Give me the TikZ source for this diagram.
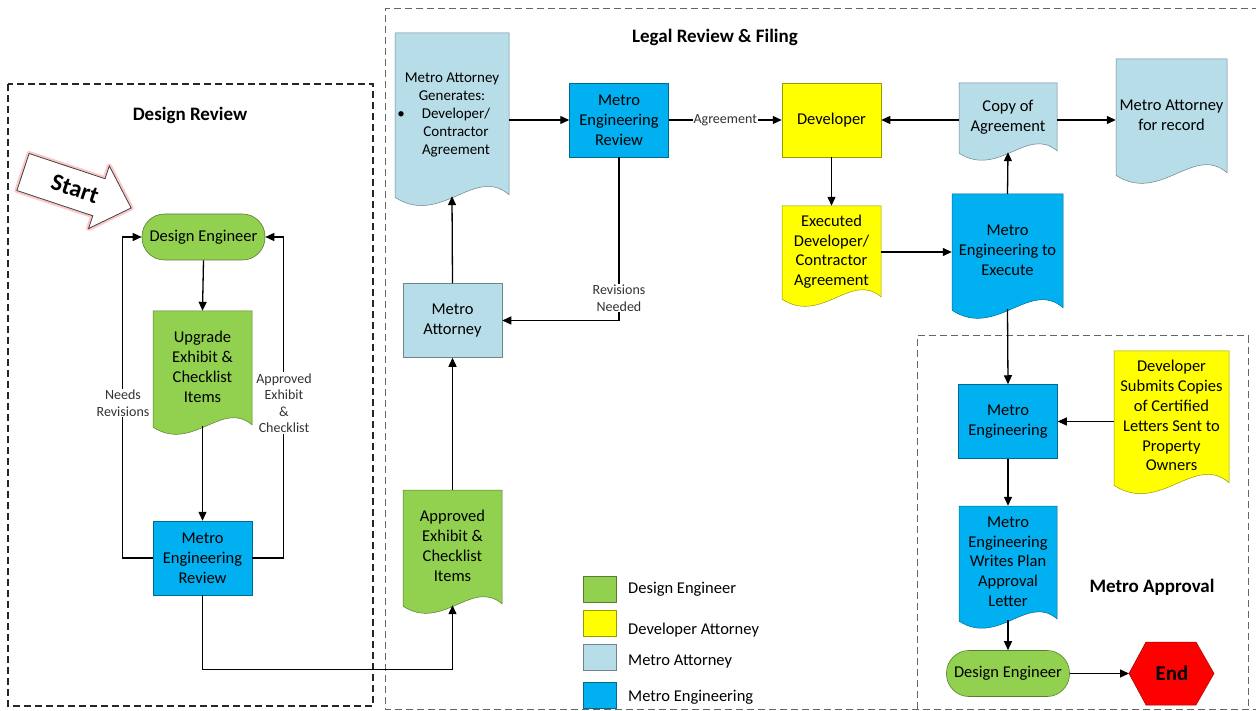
\documentclass[tikz,border=0pt]{standalone}
\usepackage{fontspec}
\setmainfont{Carlito}
\usetikzlibrary{arrows.meta,calc}
\definecolor{cgreen}{HTML}{92D050}
\definecolor{cyellow}{HTML}{FFFF00}
\definecolor{clblue}{HTML}{B7DDE8}
\definecolor{cblue}{HTML}{00B0F0}
\definecolor{cred}{HTML}{FF0000}
\newcommand{\docfont}{}
% name, cx, cy, w, H, colour, raise, text
\newcommand{\docnode}[8]{%
  \path[fill=#6, draw=#6!60!black, line width=0.5pt]
    ({#2-#4/2},{#3-#5/2}) -- ({#2+#4/2},{#3-#5/2}) -- ({#2+#4/2},{#3+#5/2-0.012*#4})
    .. controls ({#2+#4/2-0.3*#4},{#3+#5/2-0.27*#4}) and ({#2-#4/2+0.4*#4},{#3+#5/2+0.27*#4}) ..
    ({#2-#4/2},{#3+#5/2+0.012*#4}) -- cycle;
  \node[txt, minimum width=#4, minimum height=#5, inner sep=0pt] (#1) at (#2,#3)
    {\raisebox{#7pt}{\docfont\begin{tabular}{@{}c@{}}#8\end{tabular}}};%
}
\begin{document}
\begin{tikzpicture}[x=1pt,y=-1pt,
  arr/.style={draw=black, line width=1.3pt, -{Triangle[length=9pt,width=8pt]}},
  txt/.style={font=\fontsize{16.5}{19.8}\selectfont, align=center, text=black},
  lbl/.style={font=\fontsize{14}{16.5}\selectfont, align=center, fill=white, inner sep=1pt, text=black!80},
  procbox/.style={rectangle, draw=#1!60!black, fill=#1, line width=0.5pt, minimum width=99pt, minimum height=74pt, inner sep=0pt, txt},
  term/.style={rectangle, rounded corners=22.5pt, draw=cgreen!60!black, fill=cgreen, line width=0.6pt, minimum width=123pt, minimum height=46pt, inner sep=0pt, txt},
  ttl/.style={font=\bfseries\fontsize{19}{22}\selectfont, text=black},
  boxdash/.style={dash pattern=on 7pt off 4pt, line width=1.4pt},
  legsq/.style={rectangle, draw=#1!60!black, fill=#1, line width=0.5pt, minimum width=33pt, minimum height=26pt, inner sep=0pt},
  legtxt/.style={font=\fontsize{16.5}{18}\selectfont, anchor=west, inner sep=0pt, text=black}
]
\useasboundingbox (0,0) rectangle (1256,711);
\fill[white] (0,0) rectangle (1256,711);

% dashed frames
\draw[boxdash, draw=black!85] (8,84) rectangle (373,706);
\draw[boxdash, draw=black!60, line width=1pt] (1270,9) -- (385,9) -- (385,709) -- (1270,709);
\draw[boxdash, draw=black!60, line width=1pt] (917,709) -- (917,336) -- (1248,336) -- (1248,709);

% titles
\node[ttl] (tdr) at (190,115) {Design Review};
\node[ttl] (tlr) at (715,37) {Legal Review \& Filing};
\node[ttl] (tma) at (1152,587) {Metro Approval};

% start arrow
\begin{scope}[shift={(23,172)}, rotate=-18.4]
  \draw[red!30, line width=5pt, opacity=0.7, line join=round]
    (0,-19.5) -- (80,-19.5) -- (80,-33) -- (114,0) -- (80,33) -- (80,19.5) -- (0,19.5) -- cycle;
  \draw[fill=white, draw=black!75, line width=0.8pt, line join=miter]
    (0,-19.5) -- (80,-19.5) -- (80,-33) -- (114,0) -- (80,33) -- (80,19.5) -- (0,19.5) -- cycle;
\end{scope}
\node[font=\bfseries\fontsize{24}{24}\selectfont, rotate=-18.4, inner sep=0pt] (start) at (75,189) {Start};

% design review
\node[term] (de1) at (203.5,237) {Design Engineer};
\docnode{upg}{202.5}{368.5}{99}{115}{cgreen}{3.5}{Upgrade\\Exhibit \&\\Checklist\\Items}
\node[procbox=cblue] (merdr) at (202.5,558) {Metro\\Engineering\\Review};

% legal review
\docnode{appr}{452.5}{547.5}{99}{115}{cgreen}{4.5}{Approved\\Exhibit \&\\Checklist\\Items}
\node[procbox=clblue] (ma) at (452.5,320.5) {Metro\\Attorney};
\renewcommand{\docfont}{\fontsize{15}{18}\selectfont}
\docnode{mag}{452}{114.5}{114}{163}{clblue}{3.5}{Metro Attorney\\Generates:\\\hspace*{8pt}\llap{\textbullet\hspace{17pt}}Developer/\\\hspace*{8pt}Contractor\\\hspace*{8pt}Agreement}
\renewcommand{\docfont}{}
\node[procbox=cblue] (merlr) at (619,120) {Metro\\Engineering\\Review};
\node[procbox=cyellow] (dev) at (831.5,120) {Developer};
\docnode{exec}{831.5}{252}{99}{92}{cyellow}{4.5}{Executed\\Developer/\\Contractor\\Agreement}
\docnode{mee}{1007.5}{251.5}{111}{115}{cblue}{4.5}{Metro\\Engineering to\\Execute}
\docnode{copy}{1008}{117.5}{98}{69}{clblue}{5.5}{Copy of\\Agreement}
\docnode{rec}{1171.5}{116.5}{111}{115}{clblue}{5.5}{Metro Attorney\\for record}

% metro approval
\node[procbox=cblue] (me) at (1008,421.5) {Metro\\Engineering};
\docnode{dsub}{1171.5}{417.5}{115}{133}{cyellow}{5}{Developer\\Submits Copies\\of Certified\\Letters Sent to\\Property\\Owners}
\docnode{wr}{1008}{563}{98}{114}{cblue}{4}{Metro\\Engineering\\Writes Plan\\Approval\\Letter}
\node[term] (de2) at (1008,673.5) {Design Engineer};
\fill[cred, draw=cred!60!black, line width=0.5pt]
  (1129,673.5) -- (1146,642) -- (1196,642) -- (1214,673.5) -- (1196,705) -- (1146,705) -- cycle;
\coordinate (endL) at (1129,673.5);
\node[font=\bfseries\fontsize{21}{24}\selectfont] (endn) at (1172,673.5) {End};

% connectors: design review
\draw[arr] (de1.south) -- (upg.north);
\draw[arr] (upg.south) -- (merdr.north);
\draw[arr] (merdr.west) -- ++(-30,0) |- (de1.west);
\node[lbl] (lneed) at (123,403) {Needs\\Revisions};
\draw[arr] (merdr.east) -- ++(31.5,0) |- (de1.east);
\node[lbl] (lappr) at (284,403) {Approved\\Exhibit\\\&\\Checklist};
\draw[arr] (merdr.south) -- ++(0,74) -| (appr.south);

% connectors: legal review
\draw[arr] (appr.north) -- (ma.south);
\draw[arr] (ma.north) -- (mag.south);
\draw[arr] (mag.east |- merlr.west) -- (merlr.west);
\draw[arr] (merlr.east) -- node[lbl] (lagr) {Agreement} (dev.west);
\draw[arr] (merlr.south) |- (ma.east);
\node[lbl] (lrev) at (619,298) {Revisions\\Needed};
\draw[arr] (dev.south) -- (exec.north);
\draw[arr] (exec.east) -- (exec.east -| mee.west);
\draw[arr] (mee.north) -- (copy.south);
\draw[arr] (copy.west |- dev.east) -- (dev.east);
\draw[arr] (copy.east |- dev.east) -- (rec.west |- dev.east);

% connectors: metro approval
\draw[arr] (mee.south) -- (me.north);
\draw[arr] (dsub.west |- me.east) -- (me.east);
\draw[arr] (me.south) -- (wr.north);
\draw[arr] (wr.south) -- (de2.north);
\draw[arr] (de2.east) -- (endL);

% legend
\node[legsq=cgreen] (lg1) at (599.5,589.5) {};
\node[legsq=cyellow] (lg2) at (599.5,623) {};
\node[legsq=clblue] (lg3) at (599.5,657) {};
\node[legsq=cblue] (lg4) at (599.5,695) {};
\node[legtxt] (lt1) at (628,589) {Design Engineer};
\node[legtxt] (lt2) at (628,630) {Developer Attorney};
\node[legtxt] (lt3) at (628,662) {Metro Attorney};
\node[legtxt] (lt4) at (628,697) {Metro Engineering};
\end{tikzpicture}
\end{document}
